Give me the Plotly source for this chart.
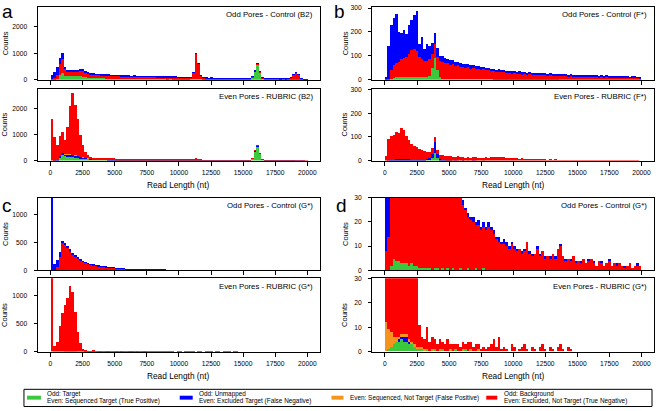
import plotly.graph_objects as go

W, H = 656, 411

# ---------------- data (200-nt bins starting at 0) ----------------
BIN_WIDTH = 200
N_BINS = 100
BIN_CENTERS = [BIN_WIDTH * i + BIN_WIDTH / 2 for i in range(N_BINS)]

X_TICKS = [0, 2500, 5000, 7500, 10000, 12500, 15000, 17500, 20000]
X_TICK_LABELS = ["0", "2500", "5000", "7500", "10000", "12500", "15000", "17500", "20000"]

# B2 odd pores (Control): target / background / unmapped
B2_ODD_TARGET = [
    5, 10, 40, 180, 240, 160, 150, 148, 145, 145, 140, 140, 120, 100, 80, 70, 65, 60, 55, 50,
    48, 45, 42, 40, 38, 36, 35, 34, 33, 32, 31, 30, 29, 28, 27, 26, 25, 24, 23, 22,
    22, 21, 20, 20, 19, 19, 18, 18, 17, 17, 16, 15, 15, 14, 14, 13, 13, 12, 12, 11,
    11, 10, 10, 10, 9, 9, 9, 8, 8, 8, 8, 7, 7, 7, 7, 6, 8, 20, 80, 300,
    580, 280, 60, 15, 7, 6, 6, 6, 5, 5, 5, 5, 5, 4, 4, 4, 4, 3, 3, 2]
B2_ODD_BACKGROUND = [
    15, 50, 150, 400, 560, 260, 175, 165, 160, 165, 180, 210, 230, 180, 145, 140, 135, 130, 128, 125,
    122, 118, 121, 115, 116, 111, 112, 106, 107, 101, 102, 96, 98, 92, 94, 88, 90, 84, 87, 82,
    83, 80, 82, 78, 79, 75, 77, 73, 74, 70, 70, 67, 66, 63, 80, 250, 980, 600, 150, 60,
    52, 49, 50, 45, 46, 43, 44, 41, 42, 39, 40, 37, 38, 35, 36, 33, 34, 31, 32, 30,
    30, 28, 29, 27, 28, 25, 26, 24, 25, 22, 23, 21, 40, 90, 190, 260, 180, 60, 15, 8]
B2_ODD_UNMAPPED = [
    175, 230, 300, 250, 210, 60, 40, 40, 45, 40, 40, 40, 40, 35, 30, 25, 25, 22, 22, 20,
    20, 20, 18, 18, 18, 17, 17, 16, 16, 16, 15, 15, 15, 14, 14, 14, 14, 13, 13, 13,
    13, 13, 14, 15, 16, 18, 20, 22, 20, 16, 12, 10, 9, 9, 8, 8, 10, 8, 7, 7,
    6, 6, 6, 6, 6, 5, 5, 5, 5, 5, 5, 5, 5, 4, 4, 4, 4, 4, 4, 4,
    5, 4, 4, 4, 4, 3, 3, 3, 3, 3, 3, 3, 3, 3, 3, 3, 3, 2, 2, 1]

# B2 even pores (RUBRIC): seq. target / excl. target / seq. not target / excl. not target
B2_EVEN_SEQ_TARGET = [
    0, 5, 30, 150, 250, 180, 150, 140, 140, 130, 120, 110, 100, 90, 80, 70, 60, 55, 50, 45,
    42, 40, 38, 36, 34, 32, 30, 28, 27, 26, 25, 24, 23, 22, 21, 20, 20, 19, 18, 18,
    17, 17, 16, 16, 15, 15, 14, 14, 13, 13, 12, 12, 12, 11, 11, 11, 10, 10, 10, 10,
    9, 9, 9, 9, 8, 8, 8, 8, 7, 7, 7, 7, 7, 6, 6, 6, 8, 20, 100, 380,
    550, 280, 50, 10, 5, 4, 4, 4, 4, 3, 3, 3, 3, 3, 3, 2, 2, 2, 2, 2]
B2_EVEN_EXCL_TARGET = [
    0, 5, 20, 50, 60, 80, 100, 110, 100, 90, 80, 60, 40, 30, 20, 15, 12, 10, 10, 8,
    8, 8, 7, 7, 7, 6, 6, 6, 6, 5, 5, 5, 5, 5, 5, 4, 4, 4, 4, 4,
    4, 4, 4, 3, 3, 3, 3, 3, 3, 3, 3, 3, 3, 3, 3, 2, 2, 2, 2, 2,
    2, 2, 2, 2, 2, 2, 2, 2, 2, 2, 2, 2, 1, 1, 1, 1, 1, 2, 5, 10,
    40, 20, 5, 2, 1, 1, 1, 1, 1, 1, 1, 1, 1, 1, 1, 1, 1, 1, 1, 0]
B2_EVEN_SEQ_NOT_TARGET = [
    0, 0, 2, 3, 3, 3, 3, 3, 3, 3, 2, 2, 2, 2, 1, 1, 1, 1, 1, 1]
B2_EVEN_EXCL_NOT_TARGET = [
    1600, 890, 550, 750, 790, 540, 1050, 1850, 2360, 1930, 1400, 830, 460, 230, 120, 75, 58, 50, 45, 47,
    45, 44, 46, 43, 45, 42, 44, 43, 41, 43, 40, 41, 39, 40, 38, 39, 37, 38, 35, 36,
    34, 33, 34, 32, 33, 31, 32, 30, 31, 29, 30, 28, 29, 27, 31, 47, 88, 63, 33, 28,
    27, 25, 26, 24, 24, 22, 23, 21, 22, 19, 20, 18, 19, 18, 18, 17, 15, 8, 5, 5,
    5, 5, 5, 8, 12, 12, 11, 10, 9, 9, 8, 8, 7, 7, 6, 7, 6, 5, 4, 4]

# F* odd pores (Control)
F_ODD_TARGET = [
    0, 2, 5, 8, 10, 10, 10, 10, 12, 12, 12, 12, 12, 10, 10, 10, 10, 15, 50, 90,
    40, 10, 5, 4, 4, 3, 3, 3, 3, 3, 2, 2, 2, 2, 2, 2, 2, 2, 2, 2,
    2, 2, 1, 1, 1, 1, 1, 1, 1, 1, 1, 1, 1, 1, 1, 1, 1, 1, 1, 1,
    1, 1, 1, 1, 1, 1, 1, 1]
F_ODD_BACKGROUND = [
    0, 3, 35, 52, 60, 65, 75, 80, 83, 98, 113, 118, 108, 85, 75, 70, 70, 70, 60, 60,
    55, 68, 70, 66, 65, 60, 61, 55, 57, 52, 52, 49, 50, 45, 47, 42, 44, 39, 41, 37,
    37, 33, 35, 32, 33, 30, 32, 28, 30, 27, 28, 25, 27, 23, 25, 22, 24, 21, 22, 20,
    21, 19, 20, 18, 19, 17, 18, 16, 18, 16, 17, 15, 16, 14, 15, 13, 15, 13, 14, 12,
    13, 12, 13, 11, 12, 10, 12, 10, 11, 9, 11, 9, 10, 8, 10, 8, 9, 8, 8, 7]
F_ODD_UNMAPPED = [
    10, 135, 190, 200, 205, 125, 110, 120, 95, 120, 125, 140, 170, 55, 95, 50, 70, 55, 45, 45,
    40, 22, 23, 20, 20, 19, 18, 16, 15, 15, 14, 14, 14, 14, 13, 13, 12, 12, 11, 10,
    10, 10, 9, 9, 9, 9, 9, 8, 7, 7, 7, 7, 7, 7, 6, 6, 7, 6, 6, 5,
    6, 5, 6, 5, 6, 5, 6, 5, 6, 5, 6, 5, 6, 5, 5, 5, 5, 4, 5, 4,
    4, 5, 4, 4, 5, 4, 4, 4, 4, 4, 4, 3, 3, 4, 4, 3, 3, 4, 3, 3]

# F* even pores (RUBRIC)
F_EVEN_SEQ_TARGET = [
    0, 0, 2, 2, 3, 3, 3, 3, 3, 3, 3, 3, 3, 3, 3, 4, 5, 8, 15, 35,
    15, 4, 2, 2, 1, 1, 1, 0, 1, 0, 1, 0, 1, 0, 0, 1, 0, 0, 1]
F_EVEN_EXCL_TARGET = [
    0, 2, 3, 3, 4, 4, 5, 4, 4, 4, 3, 3, 3, 2, 2, 2, 3, 4, 15, 45,
    15, 3, 2, 1, 1, 1, 0, 1, 0, 0, 1, 0, 0, 0, 1]
F_EVEN_EXCL_NOT_TARGET = [
    20, 93, 100, 105, 118, 113, 132, 123, 98, 83, 66, 56, 52, 45, 41, 36, 30, 28, 25, 20,
    15, 18, 20, 19, 19, 18, 18, 17, 19, 16, 17, 15, 16, 14, 16, 15, 13, 15, 14, 16,
    15, 17, 18, 19, 18, 17, 18, 15, 13, 12, 11, 12, 10, 11, 9, 10, 9, 10, 8, 9,
    8, 7, 8, 6, 7, 6, 8, 6, 5, 6, 5, 6, 4, 5, 6, 4, 5, 4, 5, 3,
    4, 5, 3, 4, 3, 4, 3, 5, 3, 2, 3, 4, 2, 3, 2, 3, 2, 3, 1, 0]

# G* odd pores (Control) - shown in panels c and d
G_ODD_TARGET = [
    0, 0, 2, 5, 4, 4, 3, 3, 3, 2, 3, 2, 2, 1, 1, 1, 1, 1, 0, 1,
    1, 0, 1, 0, 1, 0, 1, 0, 0, 1, 0, 0, 1, 0, 0, 1, 0, 0, 1]
G_ODD_BACKGROUND = [
    8, 14, 58, 245, 496, 466, 407, 347, 287, 248, 212, 183, 158, 139, 121, 107, 96, 89, 82, 75,
    69, 65, 59, 55, 49, 42, 37, 35, 32, 29, 27, 25, 21, 21, 20, 18, 19, 17, 17, 17,
    18, 17, 15, 13, 12, 11, 11, 10, 9, 11, 9, 8, 9, 7, 8, 12, 7, 6, 7, 9,
    6, 8, 5, 6, 5, 7, 5, 9, 10, 6, 4, 5, 4, 6, 3, 4, 3, 5, 3, 4,
    5, 3, 2, 4, 3, 2, 3, 4, 2, 3, 2, 3, 2, 1, 2, 3, 1, 2, 2, 2]
G_ODD_UNMAPPED = [
    1492, 106, 140, 80, 40, 30, 30, 30, 25, 25, 20, 15, 12, 10, 8, 7, 6, 5, 4, 4,
    4, 3, 3, 3, 2, 2, 2, 1, 2, 1, 2, 1, 2, 1, 2, 1, 2, 1, 2, 1,
    2, 1, 2, 1, 2, 1, 2, 2, 1, 1, 1, 1, 0, 1, 1, 0, 1, 1, 0, 1,
    1, 0, 1, 0, 1, 0, 1, 0, 1, 0, 1, 0, 1, 0, 1, 0, 1, 0, 0, 1,
    0, 1, 0, 0, 1, 0, 0, 1, 0, 0, 1, 0, 0, 1, 0, 0, 0, 0, 1, 0]

# G* even pores (RUBRIC) - shown in panels c and d
G_EVEN_SEQ_TARGET = [
    0, 1, 2, 3, 4, 4, 5, 4, 4, 3, 3, 2, 1, 1, 1, 0, 1, 0, 0, 1,
    0, 0, 1, 0, 0, 0, 0, 1, 0, 0, 0, 1]
G_EVEN_EXCL_TARGET = [0, 0, 0, 0, 0, 1, 1, 2, 2, 1]
G_EVEN_SEQ_NOT_TARGET = [
    12, 8, 6, 3, 2, 1, 1, 1, 1, 1, 1, 1, 1, 1, 1, 1, 0, 0, 1, 0,
    0, 1, 0, 0, 0, 1, 0, 0, 0, 0, 1, 0, 0, 1, 0, 0, 1]
G_EVEN_EXCL_NOT_TARGET = [
    1488, 91, 152, 444, 674, 814, 943, 1143, 1043, 695, 345, 147, 48, 9, 4, 4, 9, 4, 5, 4,
    3, 4, 3, 3, 5, 2, 3, 2, 3, 2, 3, 2, 4, 3, 2, 3, 2, 1, 2, 1,
    2, 3, 5, 2, 6, 1, 2, 1, 0, 3, 2, 0, 1, 2, 3, 1, 0, 2, 1, 0,
    2, 3, 1, 0, 2, 1, 0, 2, 3, 1, 0, 2, 1]

# ---------------- style ----------------
GREEN = "#3cc83c"
BLUE = "#0000ff"
ORANGE = "#f7941d"
RED = "#ff0000"
FONT = "Liberation Sans, Arial, sans-serif"

LEFT_X = (37.7, 320.7)
RIGHT_X = (372.7, 655.3)
ROWS_Y = [(3, 77), (86, 159.3), (197, 271), (279, 353.7)]


def px_x(p):
    return p / W


def px_y(p):
    return 1 - p / H


odd = lambda t, bg, un: [(t, GREEN), (bg, RED), (un, BLUE)]
even = lambda st, et, snt, ent: [(st, GREEN), (et, BLUE), (snt, ORANGE), (ent, RED)]

panels = [
    dict(col=LEFT_X, row=0, title="Odd Pores - Control (B2)", yr=[0, 2750], yt=[0, 1000, 2000],
         series=odd(B2_ODD_TARGET, B2_ODD_BACKGROUND, B2_ODD_UNMAPPED), labels=False),
    dict(col=LEFT_X, row=1, title="Even Pores - RUBRIC (B2)", yr=[0, 2750], yt=[0, 1000, 2000],
         series=even(B2_EVEN_SEQ_TARGET, B2_EVEN_EXCL_TARGET, B2_EVEN_SEQ_NOT_TARGET, B2_EVEN_EXCL_NOT_TARGET), labels=True),
    dict(col=RIGHT_X, row=0, title="Odd Pores - Control (F*)", yr=[0, 305], yt=[0, 100, 200, 300],
         series=odd(F_ODD_TARGET, F_ODD_BACKGROUND, F_ODD_UNMAPPED), labels=False),
    dict(col=RIGHT_X, row=1, title="Even Pores - RUBRIC (F*)", yr=[0, 305], yt=[0, 100, 200, 300],
         series=[(F_EVEN_SEQ_TARGET, GREEN), (F_EVEN_EXCL_TARGET, BLUE), (F_EVEN_EXCL_NOT_TARGET, RED)], labels=True),
    dict(col=LEFT_X, row=2, title="Odd Pores - Control (G*)", yr=[0, 1300], yt=[0, 500, 1000],
         series=odd(G_ODD_TARGET, G_ODD_BACKGROUND, G_ODD_UNMAPPED), labels=False),
    dict(col=LEFT_X, row=3, title="Even Pores - RUBRIC (G*)", yr=[0, 1300], yt=[0, 500, 1000],
         series=even(G_EVEN_SEQ_TARGET, G_EVEN_EXCL_TARGET, G_EVEN_SEQ_NOT_TARGET, G_EVEN_EXCL_NOT_TARGET), labels=True),
    dict(col=RIGHT_X, row=2, title="Odd Pores - Control (G*)", yr=[0, 30], yt=[0, 10, 20, 30],
         series=odd(G_ODD_TARGET, G_ODD_BACKGROUND, G_ODD_UNMAPPED), labels=False),
    dict(col=RIGHT_X, row=3, title="Even Pores - RUBRIC (G*)", yr=[0, 30], yt=[0, 10, 20, 30],
         series=even(G_EVEN_SEQ_TARGET, G_EVEN_EXCL_TARGET, G_EVEN_SEQ_NOT_TARGET, G_EVEN_EXCL_NOT_TARGET), labels=True),
]

fig = go.Figure()
layout = dict(
    width=W, height=H, autosize=False,
    margin=dict(l=0, r=0, t=0, b=0),
    paper_bgcolor="white", plot_bgcolor="white",
    barmode="stack", bargap=0, showlegend=False,
    font=dict(family=FONT, color="black"),
)
annotations = []
shapes = []

for k, p in enumerate(panels, start=1):
    xa = "x" if k == 1 else f"x{k}"
    ya = "y" if k == 1 else f"y{k}"
    for vals, color in p["series"]:
        fig.add_trace(go.Bar(
            x=BIN_CENTERS[:len(vals)], y=vals, width=BIN_WIDTH,
            marker=dict(color=color, line=dict(width=0)),
            xaxis=xa, yaxis=ya, hoverinfo="skip", showlegend=False,
        ))
    y0, y1 = ROWS_Y[p["row"]]
    x0, x1 = p["col"]
    layout["xaxis" if k == 1 else f"xaxis{k}"] = dict(
        domain=[px_x(x0), px_x(x1)], anchor=ya, range=[-1000, 21000],
        tickvals=X_TICKS, ticktext=X_TICK_LABELS, showticklabels=p["labels"],
        ticks="outside", ticklen=4, tickwidth=1, tickcolor="black",
        tickfont=dict(size=6.7, family=FONT), ticklabelstandoff=1,
        showline=True, mirror=True, linecolor="black", linewidth=1.2,
        showgrid=False, zeroline=False,
    )
    layout["yaxis" if k == 1 else f"yaxis{k}"] = dict(
        domain=[px_y(y1), px_y(y0)], anchor=xa, range=p["yr"],
        tickvals=p["yt"], ticks="outside", ticklen=3, tickwidth=1, tickcolor="black",
        tickfont=dict(size=6.7, family=FONT), ticklabelstandoff=5,
        showline=True, mirror=True, linecolor="black", linewidth=1.2,
        showgrid=False, zeroline=False,
    )
    # panel title
    annotations.append(dict(
        text=p["title"], xref="paper", yref="paper", x=px_x(x1 - 5), y=px_y(y0 + 8),
        xanchor="right", yanchor="middle", showarrow=False, font=dict(size=7.8, family=FONT)))
    # y-axis title
    annotations.append(dict(
        text="Counts", xref="paper", yref="paper",
        x=px_x(5 if x0 < 100 else 345.5), y=px_y((y0 + y1) / 2),
        textangle=-90, xanchor="center", yanchor="middle", showarrow=False,
        font=dict(size=7.5, family=FONT)))
    if p["labels"]:
        annotations.append(dict(
            text="Read Length (nt)", xref="paper", yref="paper",
            x=px_x((x0 + x1) / 2), y=px_y(y1 + 25),
            xanchor="center", yanchor="middle", showarrow=False,
            font=dict(size=8.3, family=FONT)))

# panel letters
for letter, xp, yp in [("a", 0, 8), ("b", 333, 8), ("c", 0, 205), ("d", 335, 205)]:
    annotations.append(dict(text=letter, xref="paper", yref="paper", x=px_x(xp), y=px_y(yp),
                            xanchor="left", yanchor="middle", showarrow=False,
                            font=dict(size=19, family=FONT)))

# legend (drawn manually)
shapes.append(dict(type="rect", xref="paper", yref="paper", x0=px_x(24), x1=px_x(653),
                   y0=px_y(409.5), y1=px_y(392), line=dict(color="black", width=1), fillcolor="rgba(0,0,0,0)"))
legend_items = [
    (GREEN, 27, 41, ["Odd: Target", "Even: Sequenced Target (True Positive)"]),
    (BLUE, 180, 193, ["Odd: Unmapped", "Even: Excluded Target (False Negative)"]),
    (ORANGE, 332, 344, ["Even: Sequenced, Not Target (False Positive)"]),
    (RED, 487, 498, ["Odd: Background", "Even: Excluded, Not Target (True Negative)"]),
]
for color, sx0, sx1, lines in legend_items:
    shapes.append(dict(type="rect", xref="paper", yref="paper", x0=px_x(sx0), x1=px_x(sx1),
                       y0=px_y(402.5), y1=px_y(398.5), line=dict(width=0), fillcolor=color))
    ys = [396.3, 403.5] if len(lines) == 2 else [400.5]
    for txt, yy in zip(lines, ys):
        annotations.append(dict(text=txt, xref="paper", yref="paper", x=px_x(sx1 + 4.5), y=px_y(yy),
                                xanchor="left", yanchor="middle", showarrow=False,
                                font=dict(size=6.4, family=FONT)))

layout["annotations"] = annotations
layout["shapes"] = shapes
fig.update_layout(**layout)
fig.write_html("out.html", config={"displayModeBar": False},
               post_script="document.body.style.margin='0';document.body.style.padding='0';")
